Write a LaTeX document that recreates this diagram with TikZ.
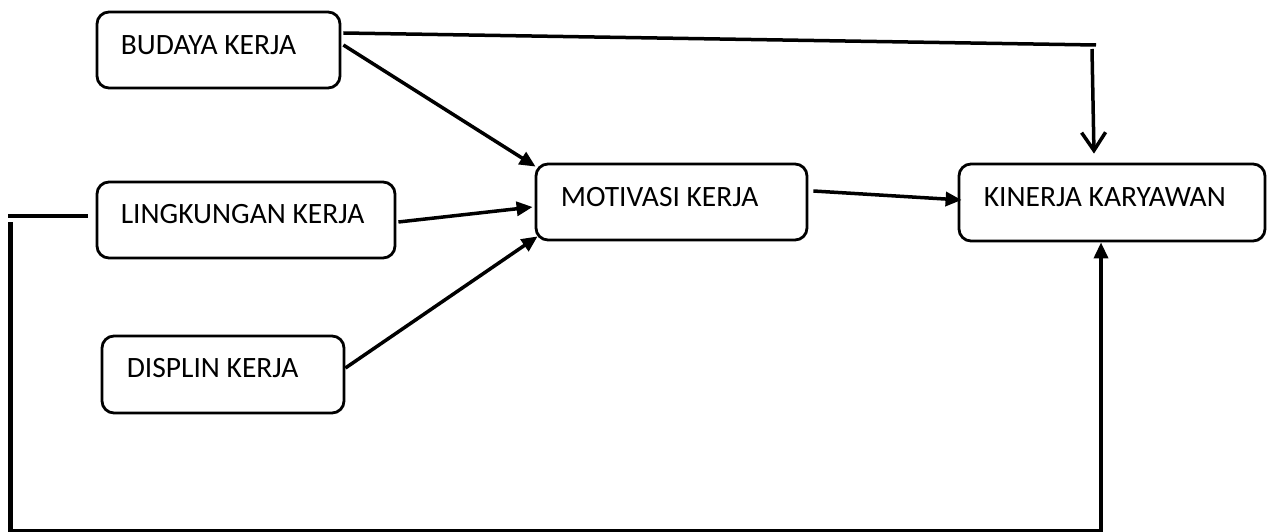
\documentclass[tikz,border=0pt]{standalone}
\usepackage{fontspec}
\setmainfont{Carlito}
\usetikzlibrary{arrows.meta,calc}
\begin{document}
\begin{tikzpicture}[x=1pt,y=-1pt,
  box/.style={draw,line width=2.8pt,rounded corners=12pt,minimum height=76pt,inner sep=0pt},
  txt/.style={anchor=base west,inner sep=0pt,font=\fontsize{29.5}{35}\selectfont},
  conn/.style={line width=3.5pt},
  arr/.style={conn,-{Triangle[length=16pt,width=14pt]}},
  openarr/.style={conn,-{Straight Barb[length=18pt,width=24pt,line width=3.5pt]}}]
\useasboundingbox (0,0) rectangle (1267,532);
% boxes
\node[box,minimum width=243pt] (bd) at (218.5,50) {};
\node[box,minimum width=298pt] (lk) at (246,220) {};
\node[box,minimum width=242pt,minimum height=77pt] (dp) at (223,374.5) {};
\node[box,minimum width=271pt] (mv) at (671.5,202) {};
\node[box,minimum width=306pt,minimum height=77pt] (kk) at (1112,202.5) {};
% texts
\node[txt] (tbd) at ($(bd.north west)+(25,44)$) {BUDAYA KERJA};
\node[txt] (tlk) at ($(lk.north west)+(25,43)$) {LINGKUNGAN KERJA};
\node[txt] (tdp) at ($(dp.north west)+(26,43)$) {DISPLIN KERJA};
\node[txt] (tmv) at ($(mv.north west)+(26,44)$) {MOTIVASI KERJA};
\node[txt] (tkk) at ($(kk.north west)+(26,44)$) {KINERJA KARYAWAN};
% helper coordinates
\coordinate (t1) at (1096,45);
\coordinate (t2) at (1092,49);
\coordinate (c1) at (8,216);
\coordinate (c2) at (10,222);
\coordinate (c3) at (10,531);
\coordinate (c4) at (1101,531);
% connectors
\draw[conn] ($(bd.east)+(2,-17)$) -- (t1);
\draw[openarr] (t2) -- ($(kk.north)+(-18,-9)$);
\draw[arr] ($(bd.east)+(2,-5)$) -- ($(mv.north west)+(1,4)$);
\draw[arr] ($(lk.east)+(2,2)$) -- ($(mv.west)+(-2,5)$);
\draw[arr] ($(dp.east)+(0,-6.5)$) -- ($(mv.south west)+(3,-5)$);
\draw[arr] ($(mv.east)+(5,-11)$) -- ($(kk.west)+(4,-2.5)$);
\draw[conn] ($(lk.west)+(-8,-4)$) -- (c1);
\draw[line width=5pt] (c2) -- (10,532);
\draw[arr] (c3) -- (c4) -- (c4 |- kk.south);
\end{tikzpicture}
\end{document}
